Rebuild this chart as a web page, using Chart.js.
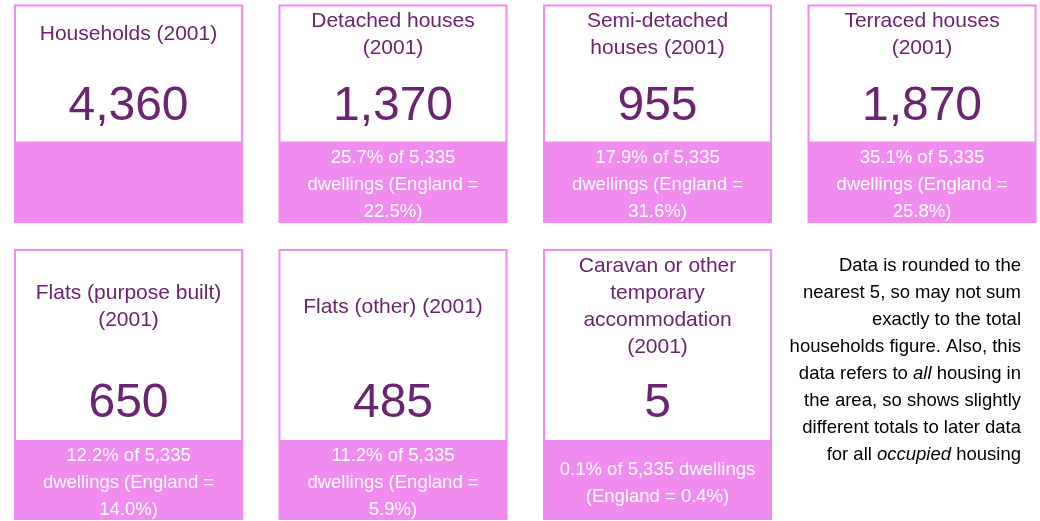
<!DOCTYPE html>
<html>
<head>
<meta charset="utf-8">
<script src="https://cdn.jsdelivr.net/npm/chart.js@4.4.0/dist/chart.umd.min.js"></script>
<style>
    html, body { margin: 0; padding: 0; background: #fff; }
    #wrap { width: 1040px; height: 521px; }
</style>
</head>
<body>
<div id="wrap"><canvas id="tiles" width="1040" height="521"></canvas></div>
<script>
// ==================== Data ====================
const TITLES = [
    'Households (2001)',
    'Detached houses (2001)',
    'Semi-detached houses (2001)',
    'Terraced houses (2001)',
    'Flats (purpose built) (2001)',
    'Flats (other) (2001)',
    'Caravan or other temporary accommodation (2001)'
];
const COUNTS = [4360, 1370, 955, 1870, 650, 485, 5];
const SHARE_PCT = [null, 25.7, 17.9, 35.1, 12.2, 11.2, 0.1];
const ENGLAND_PCT = [null, 22.5, 31.6, 25.8, 14.0, 5.9, 0.4];
const TOTAL_DWELLINGS = 5335;

// _word_ = italic
const NOTE_LINES = [
    'Data is rounded to the',
    'nearest 5, so may not sum',
    'exactly to the total',
    'households figure. Also, this',
    'data refers to _all_ housing in',
    'the area, so shows slightly',
    'different totals to later data',
    'for all _occupied_ housing'
];

// ==================== Layout / style ====================
const COLS = 4;
const FONT = '"Liberation Sans", Arial, sans-serif';
const PINK = '#f08cf0';
const PURPLE = '#6a2470';
const CARD_W = 229;
const BORDER = 2;
const ROW_LAYOUT = [
    { height: 218.5, whiteH: 137, titleMid: 28.5, numGap: 21.5 },
    { height: 271, whiteH: 191, titleMid: 56.5, numGap: 23 }
];

function fmt(n) {
    return n.toLocaleString('en-GB');
}

function wrap(ctx, text, maxW) {
    const words = text.split(' ');
    const lines = [];
    let cur = '';
    words.forEach(w => {
        const test = cur ? cur + ' ' + w : w;
        if (cur && ctx.measureText(test).width > maxW) {
            lines.push(cur);
            cur = w;
        } else {
            cur = test;
        }
    });
    if (cur) lines.push(cur);
    return lines;
}

function drawTile(ctx, cx, cy, i) {
    const row = Math.floor(i / COLS);
    const L = ROW_LAYOUT[row];
    const left = cx - CARD_W / 2;
    const top = cy - L.height / 2;
    const pinkTop = top + L.whiteH;

    ctx.fillStyle = PINK;
    ctx.fillRect(left, top, CARD_W, L.height);
    ctx.fillStyle = '#fff';
    ctx.fillRect(left + BORDER, top + BORDER, CARD_W - 2 * BORDER, L.whiteH - BORDER);

    ctx.textAlign = 'center';
    ctx.textBaseline = 'alphabetic';

    // title
    ctx.fillStyle = PURPLE;
    ctx.font = '21px ' + FONT;
    const tLines = wrap(ctx, TITLES[i], 195);
    tLines.forEach((ln, k) => {
        ctx.fillText(ln, cx, top + L.titleMid + (k - (tLines.length - 1) / 2) * 27 + 7.5);
    });

    // big number
    ctx.font = '48px ' + FONT;
    ctx.fillText(fmt(COUNTS[i]), cx, pinkTop - L.numGap);

    // share text
    if (SHARE_PCT[i] !== null) {
        const txt = SHARE_PCT[i].toFixed(1) + '% of ' + fmt(TOTAL_DWELLINGS) +
            ' dwellings (England = ' + ENGLAND_PCT[i].toFixed(1) + '%)';
        ctx.fillStyle = '#fff';
        ctx.font = '18.5px ' + FONT;
        const sLines = wrap(ctx, txt, 200);
        const mid = pinkTop + (L.height - L.whiteH) / 2 + 1.5;
        sLines.forEach((ln, k) => {
            ctx.fillText(ln, cx, mid + (k - (sLines.length - 1) / 2) * 27 + 6.6);
        });
    }
}

function drawNote(ctx, cx, cy) {
    const right = cx + 99;
    const mid = cy - 25.5;
    const lh = 26.9;
    ctx.fillStyle = '#000';
    ctx.textAlign = 'left';
    ctx.textBaseline = 'alphabetic';
    NOTE_LINES.forEach((line, k) => {
        const segs = line.split('_').map((s, j) => ({
            text: s,
            font: (j % 2 ? 'italic ' : '') + '18.5px ' + FONT
        }));
        let total = 0;
        segs.forEach(s => { ctx.font = s.font; s.w = ctx.measureText(s.text).width; total += s.w; });
        let x = right - total;
        const y = mid + (k - (NOTE_LINES.length - 1) / 2) * lh + 6.6;
        segs.forEach(s => { ctx.font = s.font; ctx.fillText(s.text, x, y); x += s.w; });
    });
}

// ==================== Chart ====================
const tilePlugin = {
    id: 'tiles',
    afterDatasetsDraw(chart) {
        const ctx = chart.ctx;
        ctx.save();
        chart.getDatasetMeta(0).data.forEach((pt, i) => drawTile(ctx, pt.x, pt.y, i));
        const note = chart.getDatasetMeta(1).data[0];
        drawNote(ctx, note.x, note.y);
        ctx.restore();
    }
};

const tileChart = new Chart(document.getElementById('tiles').getContext('2d'), {
    type: 'scatter',
    data: {
        datasets: [{
            label: 'Dwellings',
            data: TITLES.map((t, i) => ({ x: i % COLS, y: Math.floor(i / COLS) })),
            pointRadius: 0
        }, {
            label: 'Note',
            data: [{ x: 3, y: 1 }],
            pointRadius: 0
        }]
    },
    options: {
        responsive: false,
        devicePixelRatio: 1,
        animation: false,
        layout: { padding: 0 },
        plugins: {
            legend: { display: false },
            tooltip: { enabled: false }
        },
        scales: {
            x: { type: 'linear', display: false, min: -0.4858, max: 3.4461 },
            y: { type: 'linear', display: false, reverse: true, min: -0.4201, max: 1.5042 }
        }
    },
    plugins: [tilePlugin]
});
</script>
</body>
</html>
